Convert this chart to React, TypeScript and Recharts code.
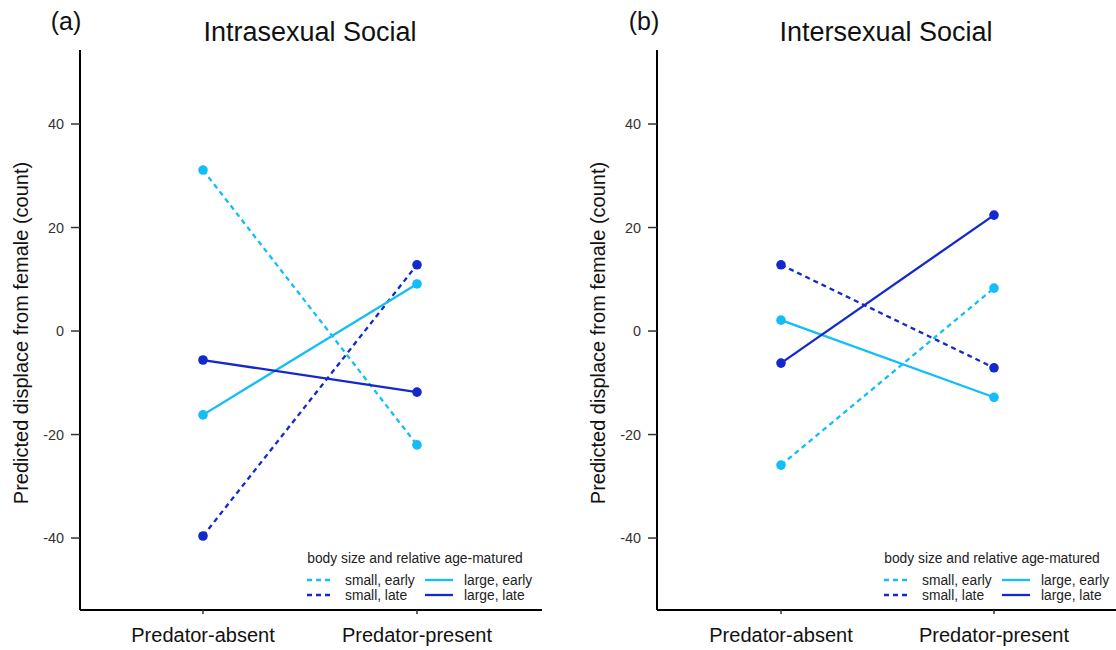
import React from 'react';
import { LineChart, Line, XAxis, YAxis, Legend } from 'recharts';

const categories = ['Predator-absent', 'Predator-present'];
const yTicks = [-40, -20, 0, 20, 40];

// Panel (a) Intrasexual Social
const intraSmallEarly = [31.1, -22.0];
const intraSmallLate = [-39.6, 12.8];
const intraLargeEarly = [-16.2, 9.1];
const intraLargeLate = [-5.6, -11.8];

// Panel (b) Intersexual Social
const interSmallEarly = [-25.9, 8.3];
const interSmallLate = [12.8, -7.1];
const interLargeEarly = [2.1, -12.8];
const interLargeLate = [-6.2, 22.4];

const LIGHT = '#12BDF8';
const DARK = '#1329CC';
const FONT = '"Liberation Sans", Arial, Helvetica, sans-serif';

const seriesDefs = [
  { key: 'smallEarly', label: 'small, early', color: LIGHT, dashed: true },
  { key: 'smallLate', label: 'small, late', color: DARK, dashed: true },
  { key: 'largeEarly', label: 'large, early', color: LIGHT, dashed: false },
  { key: 'largeLate', label: 'large, late', color: DARK, dashed: false },
];

function buildData(se: number[], sl: number[], le: number[], ll: number[]) {
  return categories.map((c, i) => ({
    category: c,
    smallEarly: se[i],
    smallLate: sl[i],
    largeEarly: le[i],
    largeLate: ll[i],
  }));
}

const LegendBox = () => (
  <svg width={250} height={62} style={{ display: 'block', overflow: 'visible' }}>
    <text x={115} y={18} textAnchor="middle" fontSize={13.8} fill="#222" fontFamily={FONT}>
      body size and relative age-matured
    </text>
    {[seriesDefs[0], seriesDefs[1]].map((s, i) => (
      <g key={s.key}>
        <line x1={7} x2={33} y1={35 + i * 15} y2={35 + i * 15} stroke={s.color} strokeWidth={2.3} strokeDasharray="5 4" />
        <text x={45} y={40 + i * 15} fontSize={13.8} fill="#222" fontFamily={FONT}>{s.label}</text>
      </g>
    ))}
    {[seriesDefs[2], seriesDefs[3]].map((s, i) => (
      <g key={s.key}>
        <line x1={125} x2={153} y1={35 + i * 15} y2={35 + i * 15} stroke={s.color} strokeWidth={2.3} />
        <text x={164} y={40 + i * 15} fontSize={13.8} fill="#222" fontFamily={FONT}>{s.label}</text>
      </g>
    ))}
  </svg>
);

function Panel({ data, width, rightMargin, padLeft, padRight }: { data: any[]; width: number; rightMargin: number; padLeft: number; padRight: number }) {
  return (
    <LineChart width={width} height={650} data={data} margin={{ top: 50, right: rightMargin, bottom: 0, left: 0 }}>
      <XAxis
        dataKey="category"
        height={40}
        padding={{ left: padLeft, right: padRight }}
        axisLine={{ stroke: '#000', strokeWidth: 2 }}
        tickLine={{ stroke: '#333', strokeWidth: 1.5 }}
        tickSize={4}
        tickMargin={14}
        tick={{ fontSize: 20, fill: '#111', fontFamily: FONT }}
        interval={0}
      />
      <YAxis
        width={80}
        type="number"
        domain={[-53.9, 54.3]}
        ticks={yTicks}
        allowDataOverflow
        axisLine={{ stroke: '#000', strokeWidth: 2 }}
        tickLine={{ stroke: '#333', strokeWidth: 1.5 }}
        tickSize={9}
        tickMargin={7}
        tick={{ fontSize: 14.4, fill: '#333', fontFamily: FONT }}
      />
      <Legend
        verticalAlign="middle"
        align="center"
        layout="horizontal"
        wrapperStyle={{ position: 'absolute', left: 300, top: 545, width: 250, height: 62 }}
        content={() => <LegendBox />}
      />
      {seriesDefs.map((s) => (
        <Line
          key={s.key}
          dataKey={s.key}
          name={s.label}
          type="linear"
          stroke={s.color}
          strokeWidth={2.3}
          strokeDasharray={s.dashed ? '5 4' : undefined}
          dot={{ r: 4.8, fill: s.color, stroke: s.color, strokeWidth: 0 }}
          activeDot={false}
          isAnimationActive={false}
        />
      ))}
    </LineChart>
  );
}

export default function App() {
  const dataA = buildData(intraSmallEarly, intraSmallLate, intraLargeEarly, intraLargeLate);
  const dataB = buildData(interSmallEarly, interSmallLate, interLargeEarly, interLargeLate);
  return (
    <div style={{ position: 'absolute', left: 0, top: 0, width: 1116, height: 650, background: '#fff', fontFamily: FONT }}>
      <div style={{ position: 'absolute', left: 0, top: 0 }}>
        <Panel data={dataA} width={560} rightMargin={18} padLeft={123} padRight={125} />
      </div>
      <div style={{ position: 'absolute', left: 577, top: 0 }}>
        <Panel data={dataB} width={539} rightMargin={0} padLeft={124} padRight={122} />
      </div>
      <svg width={1116} height={650} style={{ position: 'absolute', left: 0, top: 0, pointerEvents: 'none' }}>
        <text x={66} y={30} textAnchor="middle" fontSize={25} fill="#111" fontFamily={FONT}>(a)</text>
        <text x={310} y={41} textAnchor="middle" fontSize={27} fill="#111" fontFamily={FONT}>Intrasexual Social</text>
        <text x={644} y={30} textAnchor="middle" fontSize={25} fill="#111" fontFamily={FONT}>(b)</text>
        <text x={886} y={41} textAnchor="middle" fontSize={27} fill="#111" fontFamily={FONT}>Intersexual Social</text>
        <text transform="translate(28,333) rotate(-90)" textAnchor="middle" fontSize={20} fill="#111" fontFamily={FONT}>Predicted displace from female (count)</text>
        <text transform="translate(605,333) rotate(-90)" textAnchor="middle" fontSize={20} fill="#111" fontFamily={FONT}>Predicted displace from female (count)</text>
      </svg>
    </div>
  );
}
